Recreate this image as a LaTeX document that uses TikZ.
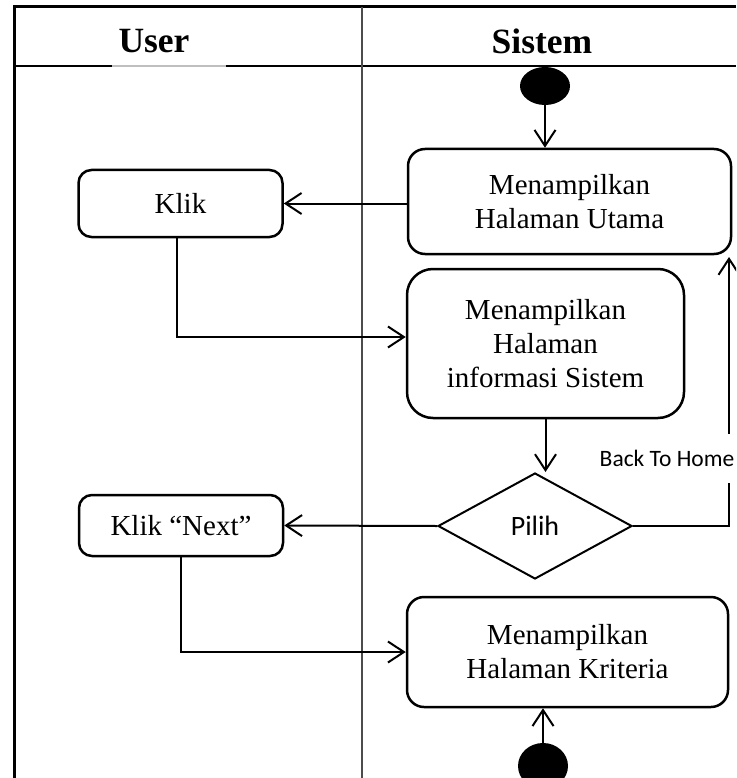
\documentclass[tikz,border=0pt]{standalone}
\usepackage{fontspec}
\setmainfont{Liberation Serif}
\newfontfamily\carlitofont{Carlito}
\usetikzlibrary{arrows.meta,shapes.geometric}
\begin{document}
\begin{tikzpicture}[x=1pt,y=-1pt,
  act/.style={draw, line width=2.5pt, rounded corners=17pt, inner sep=0pt, align=center, font=\fontsize{29}{34}\selectfont},
  conn/.style={line width=2pt, -{Straight Barb[length=16pt,width=21pt,line width=2pt]}},
  hdr/.style={font=\fontsize{35.5}{40}\selectfont\bfseries, inner sep=0pt},
  dot/.style={ellipse, fill=black, inner sep=0pt}]
\useasboundingbox (0,0) rectangle (736,778);
\clip (0,0) rectangle (736,778);
% swimlane frame
\draw[line width=3pt] (14,778) -- (14,7) -- (736,7);
\draw[line width=1.8pt] (14,66) -- (112,66);
\draw[line width=1.5pt, black!25] (112,66) -- (226,66);
\draw[line width=1.8pt] (226,66) -- (736,66);
\draw[line width=1.5pt, black!70] (362,7) -- (362,778);
\node[hdr] (u) at (154,41) {User};
\node[hdr] (si) at (542,41) {Sistem};
% nodes
\node[dot, minimum width=50pt, minimum height=38pt] (s) at (545,86) {};
\node[act, minimum width=323pt, minimum height=105pt] (b1) at (569.5,201.5) {Menampilkan\\Halaman Utama};
\node[act, minimum width=204pt, minimum height=67pt, rounded corners=13pt] (klik) at (180.5,203.5) {Klik};
\node[act, minimum width=277pt, minimum height=149pt, rounded corners=26pt] (b2) at (545.5,343.5) {Menampilkan\\Halaman\\informasi Sistem};
\node[diamond, draw, line width=2pt, minimum width=194pt, minimum height=106pt, inner sep=0pt, font=\carlitofont\fontsize{28}{30}\selectfont] (d) at (535,526) {Pilih};
\node[act, minimum width=204pt, minimum height=61pt, rounded corners=13pt] (kn) at (181,525.5) {Klik “Next”};
\node[act, minimum width=321pt, minimum height=110pt] (b3) at (567.5,652) {Menampilkan\\Halaman Kriteria};
\node[dot, minimum width=50pt, minimum height=46pt] (e) at (543,766) {};
% connectors
\draw[conn] (s.south) -- (s.south |- b1.north);
\draw[conn] (b1.west |- klik.east) -- (klik.east);
\coordinate (k1) at (177,337);
\draw[conn] (klik.south -| k1) -- (k1) -- (k1 -| b2.west);
\draw[conn] (b2.south) -- (b2.south |- d.north);
\draw[conn] (d.west) -- (kn.east);
\coordinate (bh) at (729,526);
\coordinate (bhe) at (729,257);
\draw[conn] (d.east) -- (bh) -- (bhe);
\node[fill=white, font=\carlitofont\fontsize{23.5}{25}\selectfont, inner xsep=0pt, minimum height=49pt] (lbl) at (667,458) {Back To Home};
\draw[conn] (kn.south) |- (b3.west);
\draw[conn] (e.north) -- (e.north |- b3.south);
\end{tikzpicture}
\end{document}
